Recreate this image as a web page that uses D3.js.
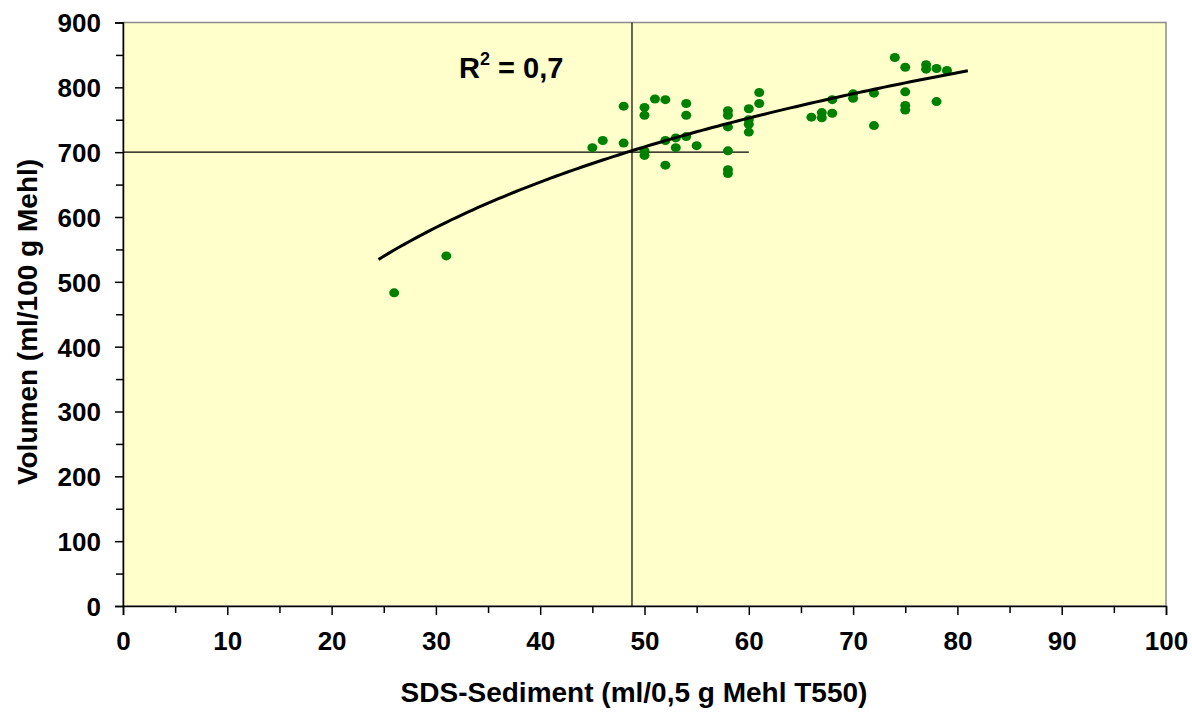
<!DOCTYPE html>
<html>
<head>
<meta charset="utf-8">
<script src="https://cdn.jsdelivr.net/npm/d3@7"></script>
<style>
  body { margin: 0; background: #fff; }
  text { font-family: "Liberation Sans", Arial, sans-serif; font-weight: bold; }
</style>
</head>
<body>
<svg width="1192" height="720"></svg>
<script>
// SDS-Sediment (x) vs. Volumen (y)
const sdsValues = [26, 31, 45, 46, 48, 48, 50, 50, 50, 50, 51, 52, 52, 52, 53, 53, 54, 54, 54, 55,
  58, 58, 58, 58, 58, 58, 60, 60, 60, 60, 61, 61,
  66, 67, 67, 68, 68, 70, 70, 72, 72, 74, 75, 75, 75, 75, 77, 77, 78, 78, 79];
const volumeValues = [483, 540, 707, 718, 771, 714, 769, 757, 702, 695, 782, 781, 718, 680, 722, 707, 775, 757, 724, 710,
  764, 757, 739, 702, 673, 667, 767, 750, 743, 731, 792, 775,
  754, 761, 753, 781, 760, 790, 783, 791, 741, 846, 831, 793, 772, 765, 835, 828, 829, 778, 826];

// logarithmic trendline y = a + b*ln(x), drawn from x=24.5 to 81
const trendA = -244;
const trendB = 243.4;
const trendRange = [24.5, 81];
const rSquaredText = "0,7";

// reference cross lines
const refX = 48.8;
const refY = 700;
const refYLineEnd = 60;

const xTicks = d3.range(0, 101, 10);
const yTicks = d3.range(0, 901, 100);

const svg = d3.select("svg");
const plotLeft = 123, plotRight = 1166, plotTop = 22.5, plotBottom = 606;

const x = d3.scaleLinear().domain([0, 100]).range([plotLeft, plotRight]);
const y = d3.scaleLinear().domain([0, 900]).range([plotBottom, plotTop]);

// plot background
svg.append("rect")
  .attr("x", plotLeft).attr("y", plotTop)
  .attr("width", plotRight - plotLeft).attr("height", plotBottom - plotTop)
  .attr("fill", "#ffffcc")
  .attr("stroke", "#8c8c8c")
  .attr("stroke-width", 1.5);

// axes
const xAxis = svg.append("g")
  .attr("transform", `translate(0,${plotBottom})`)
  .call(d3.axisBottom(x).tickValues(xTicks).tickSize(9).tickPadding(14).tickFormat(d3.format("d")));
svg.append("g")
  .attr("transform", `translate(0,${plotBottom})`)
  .call(d3.axisBottom(x).tickValues(d3.range(5, 100, 10)).tickSize(7).tickFormat(""))
  .select(".domain").remove();

const yAxis = svg.append("g")
  .attr("transform", `translate(${plotLeft},0)`)
  .call(d3.axisLeft(y).tickValues(yTicks).tickSize(8).tickPadding(14).tickFormat(d3.format("d")));
svg.append("g")
  .attr("transform", `translate(${plotLeft},0)`)
  .call(d3.axisLeft(y).tickValues(d3.range(50, 900, 100)).tickSize(7).tickFormat(""))
  .select(".domain").remove();

svg.selectAll(".domain, .tick line").attr("stroke", "#000").attr("stroke-width", 1.5);
xAxis.selectAll("text").attr("font-size", 26).attr("fill", "#000").attr("dy", "0.8em");
yAxis.selectAll("text").attr("font-size", 26).attr("fill", "#000").attr("dy", "0.36em");

// reference lines
svg.append("line")
  .attr("x1", x(refX)).attr("x2", x(refX))
  .attr("y1", y(900)).attr("y2", y(0))
  .attr("stroke", "#000").attr("stroke-width", 1.2);
svg.append("line")
  .attr("x1", x(0)).attr("x2", x(refYLineEnd))
  .attr("y1", y(refY)).attr("y2", y(refY))
  .attr("stroke", "#000").attr("stroke-width", 1.2);

// points
svg.append("g")
  .selectAll("ellipse")
  .data(sdsValues.map((d, i) => [d, volumeValues[i]]))
  .enter()
  .append("ellipse")
  .attr("cx", (d) => x(d[0]))
  .attr("cy", (d) => y(d[1]))
  .attr("rx", 5)
  .attr("ry", 4.5)
  .attr("fill", "#008000");

// trendline
const trendPts = d3.range(trendRange[0], trendRange[1] + 0.01, 0.5)
  .map((v) => [v, trendA + trendB * Math.log(v)]);
svg.append("path")
  .datum(trendPts)
  .attr("fill", "none")
  .attr("stroke", "#000")
  .attr("stroke-width", 3)
  .attr("d", d3.line().x((d) => x(d[0])).y((d) => y(d[1])));

// R² label
const r2 = svg.append("text")
  .attr("x", 459).attr("y", 78)
  .attr("font-size", 29)
  .attr("fill", "#000");
r2.append("tspan").text("R");
r2.append("tspan").attr("font-size", 18).attr("dy", -13).text("2");
r2.append("tspan").attr("dy", 13).text(" = " + rSquaredText);

// axis titles
svg.append("text")
  .attr("x", 634).attr("y", 702)
  .attr("text-anchor", "middle")
  .attr("font-size", 28)
  .attr("fill", "#000")
  .text("SDS-Sediment (ml/0,5 g Mehl T550)");

svg.append("text")
  .attr("transform", `translate(37,${322}) rotate(-90)`)
  .attr("text-anchor", "middle")
  .attr("font-size", 28)
  .attr("fill", "#000")
  .text("Volumen (ml/100 g Mehl)");
</script>
</body>
</html>
